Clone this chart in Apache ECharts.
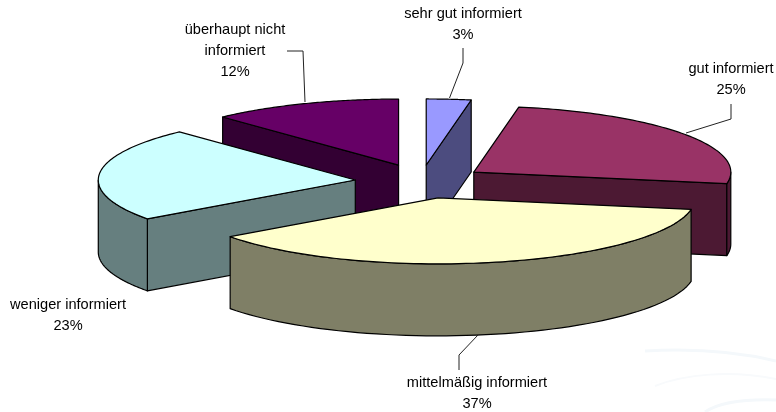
<!DOCTYPE html>
<html><head><meta charset="utf-8">
<style>html,body{margin:0;padding:0;background:#fff}#c{width:776px;height:412px}</style>
<script src="https://cdn.jsdelivr.net/npm/echarts@6/dist/echarts.min.js"></script>
</head><body><div id="c"></div>
<script>
const categories = ['sehr gut informiert','gut informiert','mittelmäßig informiert','weniger informiert','überhaupt nicht informiert'];
const values = [2.8,25,37.2,23,12];
const topColors = ['#9999FF','#993366','#FFFFCC','#CCFFFF','#660066'];
const sideColors = ['#4C4C7F','#4C1933','#7F7F66','#667F7F','#330033'];
const labelLines = [
  ['sehr gut informiert','3%'],
  ['gut informiert','25%'],
  ['mittelmäßig informiert','37%'],
  ['weniger informiert','23%'],
  ['überhaupt nicht','informiert','12%']
];
// layout of the labels, leader lines and slice nudges
const labelAnchors = [[463,14],[731,69],[477,383],[68,305],[235,30]];
const leaders = [
  [[463,48],[463,63],[449.5,98]],
  [[731,104],[731,119],[686,133]],
  [[459,370],[459,355],[478,335]],
  null,
  [[287,51],[303,51],[305,102]]
];
const nudges = [[-1,0],[-1,0],[2,0],[-1.5,0],[1,-1]];
const CX=421.5, CY=181.6, RX=257, RY=66, DEPTH=72, EXPLODE=65, LINE=21;
const total = values.reduce((a,b)=>a+b,0);
const starts = []; let acc=0;
values.forEach(v=>{starts.push(acc/total*Math.PI*2); acc+=v;});

function renderItem(params, api){
  const i = params.dataIndex;
  const v = api.value(1);
  const a = starts[i], b = a + v/total*Math.PI*2, m=(a+b)/2;
  const ax = CX + EXPLODE*Math.sin(m) + nudges[i][0];
  const ay = CY - EXPLODE*Math.cos(m)*RY/RX + nudges[i][1];
  const pt = (t,dz)=>[ax+RX*Math.sin(t), ay-RY*Math.cos(t)+(dz||0)];
  const z2 = Math.round(-Math.cos(m)*100)+200;
  const style = c=>({fill:c, stroke:'#000', lineWidth:1.2, lineJoin:'round'});
  const kids = [];
  const face = t=>({type:'polygon',z2:z2,shape:{points:[[ax,ay],pt(t),pt(t,DEPTH),[ax,ay+DEPTH]]},style:style(sideColors[i])});
  if (Math.sin(a) < -1e-6) kids.push(face(a));
  if (Math.sin(b) > 1e-6) kids.push(face(b));
  // outer wall, only the half that faces the viewer
  const w0 = Math.max(a, Math.PI/2), w1 = Math.min(b, Math.PI*1.5);
  if (w1 > w0){
    const up=[], down=[];
    for(let k=0;k<=60;k++){const t=w0+(w1-w0)*k/60; up.push(pt(t)); down.unshift(pt(t,DEPTH));}
    kids.push({type:'polygon',z2:z2,shape:{points:up.concat(down)},style:style(sideColors[i])});
  }
  const top=[[ax,ay]];
  for(let k=0;k<=80;k++){top.push(pt(a+(b-a)*k/80));}
  kids.push({type:'polygon',z2:z2,shape:{points:top},style:style(topColors[i])});
  return {type:'group',children:kids};
}
function renderLabel(params, api){
  const i = params.dataIndex;
  const kids = [];
  const [x,y] = labelAnchors[i];
  labelLines[i].forEach((s,k)=>kids.push({type:'text',style:{text:s,x:x,y:y+k*LINE,fill:'#000',font:'14.6px "Liberation Sans", Arial, sans-serif',textAlign:'center',textVerticalAlign:'middle'}}));
  if (leaders[i]) kids.push({type:'polyline',shape:{points:leaders[i]},style:{fill:null,stroke:'#222',lineWidth:1}});
  return {type:'group',children:kids};
}
const data = categories.map((c,i)=>({name:c,value:[i,values[i]]}));
const swoosh = (x1,y1,cx1,cy1,cx2,cy2,x2,y2,color,w)=>({type:'bezierCurve',silent:true,z:0,
  shape:{x1,y1,cpx1:cx1,cpy1:cy1,cpx2:cx2,cpy2:cy2,x2,y2},style:{fill:null,stroke:color,lineWidth:w}});
const chart = echarts.init(document.getElementById('c'),null,{renderer:'canvas'});
chart.setOption({
  animation:false,
  backgroundColor:'#fff',
  graphic:{elements:[
    swoosh(645,351,680,349,730,350,776,361,'#f4f8fb',3),
    swoosh(655,386,685,374,730,370,776,379,'#f8fafc',2),
    swoosh(705,412,720,402,745,399,776,400,'#f4f8fb',3)
  ]},
  series:[
    {type:'custom',coordinateSystem:'none',renderItem:renderItem,data:data,z:2,silent:true},
    {type:'custom',coordinateSystem:'none',renderItem:renderLabel,data:data,z:3,silent:true}
  ]
});
</script></body></html>
